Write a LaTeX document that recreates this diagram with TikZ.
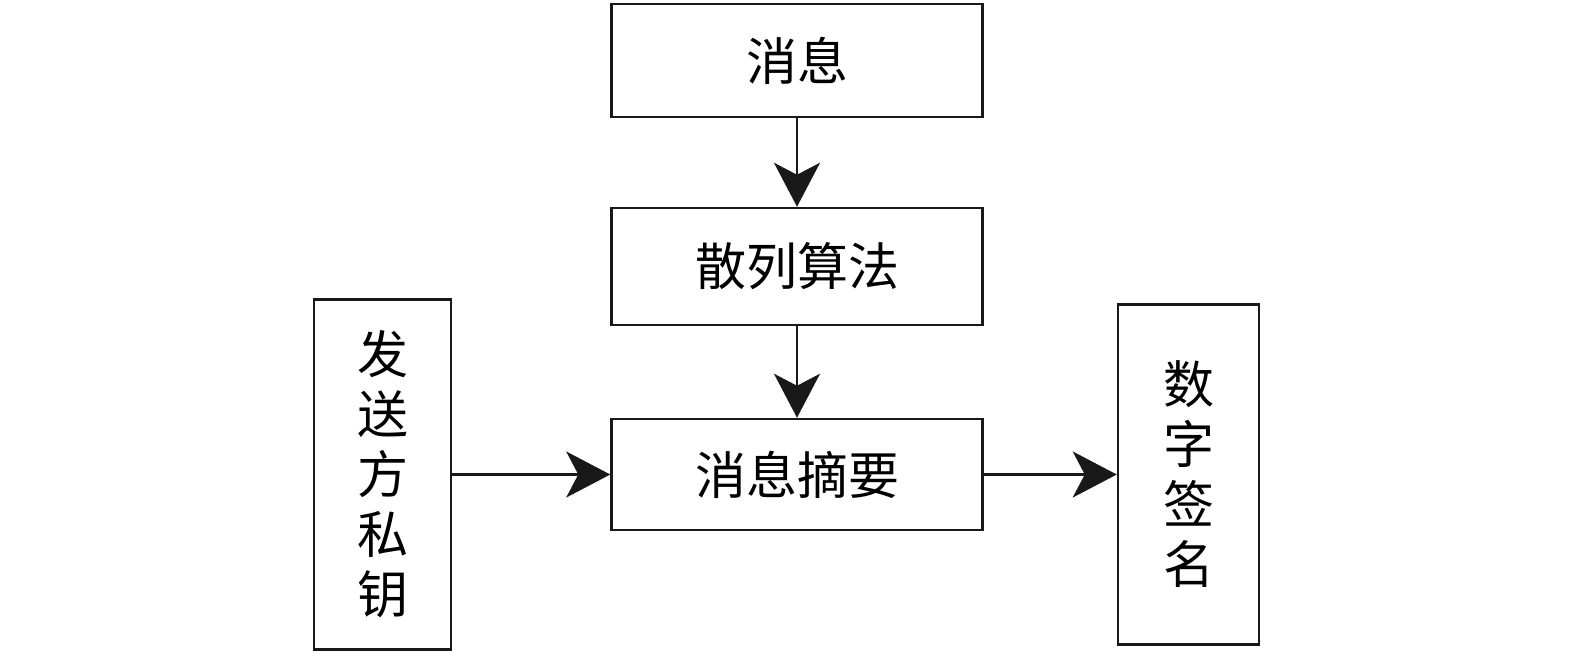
\documentclass[tikz,border=0pt]{standalone}
\usepackage{fontspec}
\newfontfamily\cjk{Noto Sans CJK SC}
\usetikzlibrary{arrows.meta}
\begin{document}
\begin{tikzpicture}[x=1pt,y=-1pt,
  box/.style={draw=black!90,line width=2.5pt,inner sep=0pt,
    font=\cjk\fontsize{51}{60}\selectfont,align=center},
  arr/.style={line width=2.5pt,draw=black!90,-{Stealth[length=44pt,width=46pt,inset=12pt]}}]
\useasboundingbox (0,0) rectangle (1575,657);
\node[box,minimum width=371pt,minimum height=113pt] (msg) at (797,60.5) {消息};
\node[box,minimum width=371pt,minimum height=117pt] (hash) at (797,266.5) {散列算法};
\node[box,minimum width=371pt,minimum height=111pt] (dig) at (797,474.5) {消息摘要};
\node[box,minimum width=137pt,minimum height=350pt] (key) at (382.5,474.5) {发\\送\\方\\私\\钥};
\node[box,minimum width=141pt,minimum height=340pt] (sig) at (1188.5,474.5) {数\\字\\签\\名};
\draw[arr] (msg) -- (hash);
\draw[arr] (hash) -- (dig);
\draw[arr] (key) -- (dig);
\draw[arr] (dig) -- (sig);
\end{tikzpicture}
\end{document}
